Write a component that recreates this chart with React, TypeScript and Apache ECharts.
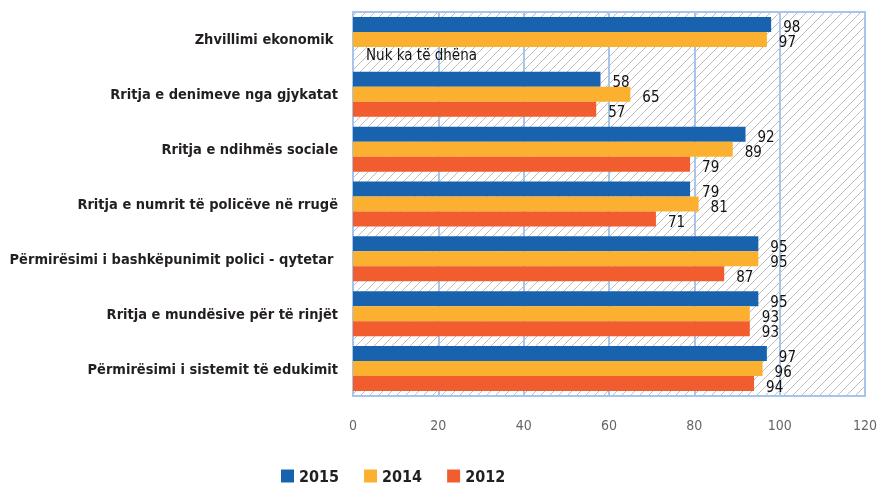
import React, { useEffect, useRef } from "react";
import * as echarts from "echarts";

const categories = [
  "Zhvillimi ekonomik ",
  "Rritja e denimeve nga gjykatat",
  "Rritja e ndihmës sociale",
  "Rritja e numrit të policëve në rrugë",
  "Përmirësimi i bashkëpunimit polici - qytetar ",
  "Rritja e mundësive për të rinjët",
  "Përmirësimi i sistemit të edukimit",
];
const seriesNames = ["2015", "2014", "2012"];
const data2015 = [98, 58, 92, 79, 95, 95, 97];
const data2014 = [97, 65, 89, 81, 95, 93, 96];
const data2012: (number | null)[] = [null, 57, 79, 71, 87, 93, 94];
const noDataText = "Nuk ka të dhëna";
const xTicks = [0, 20, 40, 60, 80, 100, 120];

const colors = ["#1862ae", "#fbb12f", "#f15d2e"];
const condensed = "'DejaVu Sans Condensed', 'Liberation Sans Narrow', sans-serif";

function makeHatch() {
  const c = document.createElement("canvas");
  c.width = 9;
  c.height = 9;
  const ctx = c.getContext("2d")!;
  ctx.fillStyle = "#ffffff";
  ctx.fillRect(0, 0, 9, 9);
  ctx.strokeStyle = "#bdbdbd";
  ctx.lineWidth = 1;
  ctx.beginPath();
  ctx.moveTo(0, 9);
  ctx.lineTo(9, 0);
  ctx.moveTo(-1, 1);
  ctx.lineTo(1, -1);
  ctx.moveTo(8, 10);
  ctx.lineTo(10, 8);
  ctx.stroke();
  return c;
}

export default function App() {
  const ref = useRef<HTMLDivElement>(null);
  useEffect(() => {
    if (!ref.current) return;
    const chart = echarts.init(ref.current, undefined, { renderer: "svg" });
    const hatch = makeHatch();
    const labelStyle = {
      show: true,
      position: "right" as const,
      distance: 12,
      offset: [0, 3],
      fontFamily: condensed,
      fontSize: 15,
      color: "#111",
    };
    const build = (arr: (number | null)[]) =>
      arr.map((v) =>
        v === null
          ? {
              value: 0,
              label: {
                show: true,
                formatter: noDataText,
                distance: 13,
                offset: [0, 1],
                fontSize: 15,
              },
            }
          : v
      );
    const allData = [data2015, data2014, data2012];
    chart.setOption({
      animation: false,
      grid: {
        left: 353,
        right: 15,
        top: 12,
        bottom: 89,
        outerBoundsMode: "none",
        containLabel: false,
        show: true,
        backgroundColor: { image: hatch, repeat: "repeat", imageWidth: 9, imageHeight: 9 } as any,
        borderColor: "#a9c5e9",
        borderWidth: 2,
      } as any,
      legend: {
        data: seriesNames,
        left: 281,
        top: 468,
        padding: 0,
        icon: "rect",
        itemWidth: 13,
        itemHeight: 13,
        itemGap: 25,
        textStyle: { fontFamily: condensed, fontWeight: "bold", fontSize: 16, color: "#231f20" },
      },
      xAxis: {
        type: "value",
        min: xTicks[0],
        max: xTicks[xTicks.length - 1],
        interval: 20,
        axisLine: { show: false },
        axisTick: { show: false },
        splitLine: { show: true, lineStyle: { color: "#a9c5e9", width: 2 } },
        axisLabel: { fontFamily: condensed, fontSize: 14, color: "#666", margin: 22 },
      },
      yAxis: {
        type: "category",
        inverse: true,
        data: categories,
        axisLine: { show: true, lineStyle: { color: "#a9c5e9", width: 2 } },
        axisTick: { show: false },
        axisLabel: {
          fontFamily: condensed,
          fontWeight: "bold",
          fontSize: 14.5,
          color: "#231f20",
          margin: 15,
        },
      },
      series: seriesNames.map((name, i) => ({
        name,
        type: "bar",
        barGap: "0%",
        barCategoryGap: "18%",
        itemStyle: { color: colors[i] },
        label: labelStyle,
        data: build(allData[i]),
      })),
    });
    return () => chart.dispose();
  }, []);
  return <div ref={ref} style={{ position: "fixed", left: 0, top: 0, width: 880, height: 485 }} />;
}
